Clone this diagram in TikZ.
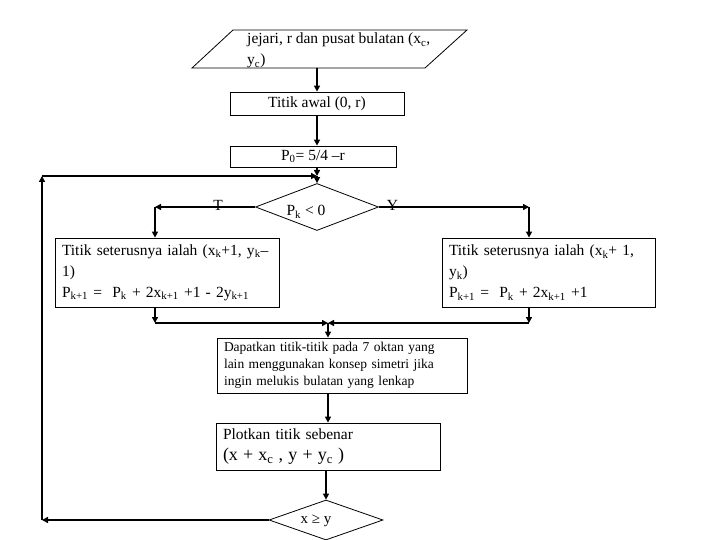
\documentclass[tikz,border=0pt]{standalone}
\usepackage{fontspec}
\setmainfont{Liberation Serif}
\usetikzlibrary{arrows.meta, shapes.geometric}
\tikzset{
  box/.style={draw, line width=0.8pt, inner sep=0pt},
  txtbox/.style={box, align=left, inner xsep=7pt},
  decision/.style={draw, diamond, line width=0.8pt, inner sep=0pt},
  flow/.style={line width=2.2pt, -{Triangle[length=6pt,width=6pt]}},
  body/.style={font=\fontsize{15.5}{21}\selectfont},
}

\begin{document}
\begin{tikzpicture}[x=1pt,y=-1pt]
        \useasboundingbox (0,0) rectangle (720,540);
        % input jejari dan pusat
        \draw[box] (233,30) -- (467,30) -- (425,68) -- (192,68) -- cycle;
        \node[body, anchor=north west, align=left, inner sep=0pt] (input) at (247,33) {jejari, r dan pusat bulatan (x\textsubscript{c},\\y\textsubscript{c})};
        \coordinate (inbot) at (317,68);

        % titik awal, P0
        \node[box, body, minimum width=174pt, minimum height=23pt] (awal) at (317,103.5) {Titik awal (0, r)};
        \node[box, body, minimum width=166pt, minimum height=21pt] (p0) at (313,156.5) {P\textsubscript{0}= 5/4 –r};
        \coordinate (back) at (317,176);

        % keputusan Pk < 0
        \node[decision, minimum width=123pt, minimum height=47pt] (d1) at (317,207) {};
        \node[body] (d1txt) at (306,212) {P\textsubscript{k} < 0};
        \coordinate (cT) at (155,207);
        \coordinate (cY) at (529,207);

        % dua cabang
        \node[txtbox, body, text width=210pt, minimum height=69pt] (left) at (167,272.5) {Titik seterusnya ialah (x\textsubscript{k}+1, y\textsubscript{k}–\\1)\\P\textsubscript{k+1} =\ \ P\textsubscript{k} + 2x\textsubscript{k+1} +1 - 2y\textsubscript{k+1}};
        \node[txtbox, body, text width=199pt, minimum height=69pt] (right) at (548.5,272.5) {Titik seterusnya ialah (x\textsubscript{k}+ 1,\\y\textsubscript{k})\\P\textsubscript{k+1} =\ \ P\textsubscript{k} + 2x\textsubscript{k+1} +1};
        \coordinate (mL) at (155,323);
        \coordinate (mR) at (529,323);
        \coordinate (m) at (328,323);

        % oktan lain, plot
        \node[txtbox, font=\fontsize{13.5}{17}\selectfont, text width=236pt, minimum height=55pt] (oktan) at (342,365.5) {Dapatkan titik-titik pada 7 oktan yang\\lain menggunakan konsep simetri jika\\ingin melukis bulatan yang lenkap};
        \node[txtbox, body, text width=210pt, minimum height=47pt] (plot) at (328,446.5) {Plotkan titik sebenar\\{\fontsize{18}{22}\selectfont (x + x\textsubscript{c} , y + y\textsubscript{c} )}};

        % keputusan x >= y
        \node[decision, minimum width=114pt, minimum height=40pt] (d2) at (326,520) {};
        \node[font=\fontsize{15}{17}\selectfont] (d2txt) at (316,521) {x ≥ y};
        \coordinate (cB) at (42,520);
        \coordinate (cA) at (42,176);

        % penyambung
        \draw[flow] (inbot) -- (inbot |- awal.north);
        \draw[flow] (awal.south) -- (awal.south |- p0.north);
        \draw[flow] (p0.south -| back) -- (back);
        \draw[flow] (back) -- (d1.north);
        \draw[flow] (d1.west) -- node[body, pos=0.37, yshift=2pt] (T) {T} (cT);
        \draw[flow] (cT) -- (left.north -| cT);
        \draw[flow] (d1.east) -- node[body, pos=0.09, yshift=2pt] (Y) {Y} (cY);
        \draw[flow] (cY) -- (right.north -| cY);
        \draw[flow] (left.south -| mL) -- (mL);
        \draw[flow] (mL) -- (m);
        \draw[flow] (right.south -| mR) -- (mR);
        \draw[flow] (mR) -- (m);
        \draw[flow] (m) -- (oktan.north -| m);
        \draw[flow] (oktan.south -| m) -- (plot.north);
        \draw[flow] (plot.south -| d2.north) -- (d2.north);
        \draw[flow] (d2.west) -- (cB);
        \draw[flow] (cB) -- (cA);
        \draw[flow] (cA) -- (back);
\end{tikzpicture}
\end{document}
